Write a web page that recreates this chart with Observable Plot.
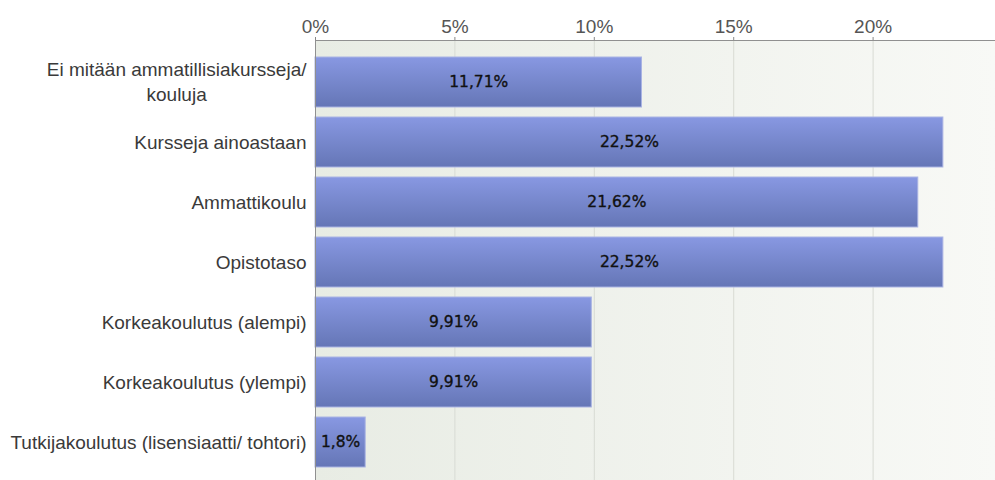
<!DOCTYPE html>
<html>
<head>
<meta charset="utf-8">
<script src="https://cdn.jsdelivr.net/npm/d3@7"></script>
<script src="https://cdn.jsdelivr.net/npm/@observablehq/plot@0.6"></script>
<style>
  html, body { margin: 0; padding: 0; background: #ffffff; }
  #chart { width: 995px; height: 480px; overflow: hidden; }
</style>
</head>
<body>
<div id="chart"></div>
<script>
const categories = [
  "Ei mitään ammatillisiakursseja/\nkouluja",
  "Kursseja ainoastaan",
  "Ammattikoulu",
  "Opistotaso",
  "Korkeakoulutus (alempi)",
  "Korkeakoulutus (ylempi)",
  "Tutkijakoulutus (lisensiaatti/ tohtori)"
];
const values = [11.71, 22.52, 21.62, 22.52, 9.91, 9.91, 1.8];
const xTicks = [0, 5, 10, 15, 20];
const xMax = 24.39;

const data = categories.map((c, i) => ({category: c, value: values[i]}));
const fmt = v => String(v).replace(".", ",") + "%";

// split category labels into separate lines
const lineData = data.flatMap(d => {
  const lines = d.category.split("\n");
  return lines.map((t, i) => ({category: d.category, line: t, i, n: lines.length}));
});
const single = lineData.filter(d => d.n === 1);
const first = lineData.filter(d => d.n === 2 && d.i === 0);
const second = lineData.filter(d => d.n === 2 && d.i === 1);

const labelStyle = {fill: "#3a3a3a", fontSize: 19, frameAnchor: "left", textAnchor: "end", dx: -9};

const chart = Plot.plot({
  width: 995,
  height: 480,
  marginLeft: 315,
  marginRight: 0,
  marginTop: 40,
  marginBottom: 0,
  style: {fontFamily: "'Liberation Sans', Arial, sans-serif", fontSize: "19px", background: "#ffffff", overflow: "hidden"},
  x: {domain: [0, xMax], axis: null, label: null},
  y: {domain: categories, paddingInner: 0.17, paddingOuter: 0.25, align: 0.57, axis: null, label: null},
  marks: [
    Plot.frame({fill: "url(#bgGrad)", stroke: null}),
    Plot.gridX(xTicks.filter(t => t > 0), {stroke: "#d8dbd4", strokeOpacity: 1, strokeWidth: 1}),
    Plot.barX(data, {x: "value", y: "category", fill: "url(#barGrad)", stroke: "#a9b3e3", strokeWidth: 1}),
    Plot.text(data, {
      x: d => d.value / 2, y: "category", text: d => fmt(d.value),
      fontFamily: "'DejaVu Sans', Verdana, sans-serif", fontSize: 15.5, fill: "#111111",
      stroke: "#111111", strokeWidth: 0.35
    }),
    Plot.axisX(xTicks, {
      anchor: "top", tickSize: 4, tickPadding: 4, tickFormat: d => d + "%", label: null,
      stroke: "#888888", fill: "#555555", fontSize: 19
    }),
    Plot.text(single, {y: "category", text: "line", ...labelStyle}),
    Plot.text(first, {y: "category", text: "line", ...labelStyle, dy: -12.5, className: "ylab0"}),
    Plot.text(second, {y: "category", text: "line", ...labelStyle, dy: 12.5, className: "ylab1"}),
    Plot.frame({stroke: "#909090", fill: null, insetRight: -3, insetBottom: -3})
  ]
});

document.getElementById("chart").appendChild(chart);

// gradients
const defs = d3.select(chart).insert("defs", ":first-child");
const bg = defs.append("linearGradient").attr("id", "bgGrad")
  .attr("x1", 0).attr("y1", 0).attr("x2", 1).attr("y2", 0);
bg.append("stop").attr("offset", "0%").attr("stop-color", "#e8ece4");
bg.append("stop").attr("offset", "100%").attr("stop-color", "#f8f9f6");
const bar = defs.append("linearGradient").attr("id", "barGrad")
  .attr("x1", 0).attr("y1", 0).attr("x2", 0).attr("y2", 1);
bar.append("stop").attr("offset", "0%").attr("stop-color", "#8898e2");
bar.append("stop").attr("offset", "100%").attr("stop-color", "#6576b6");

// center the lines of two-line labels within their right-aligned block
const t0 = Array.from(chart.querySelectorAll(".ylab0 text"));
const t1 = Array.from(chart.querySelectorAll(".ylab1 text"));
t0.forEach((a, k) => {
  const b = t1[k];
  if (!b) return;
  const wa = a.getComputedTextLength(), wb = b.getComputedTextLength();
  const maxW = Math.max(wa, wb);
  [[a, wa], [b, wb]].forEach(([el, w]) => {
    const shift = -(maxW - w) / 2;
    el.setAttribute("transform", (el.getAttribute("transform") || "") + ` translate(${shift},0)`);
  });
});
</script>
</body>
</html>
